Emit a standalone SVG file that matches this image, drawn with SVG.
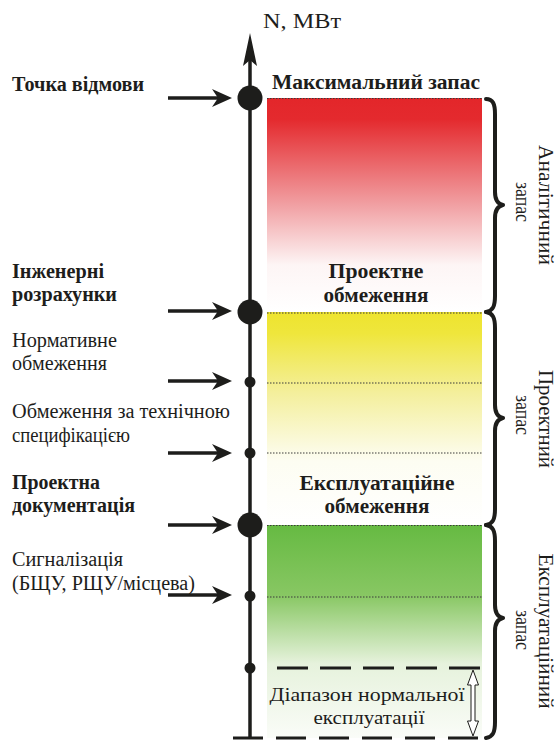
<svg xmlns="http://www.w3.org/2000/svg" width="560" height="740" viewBox="0 0 560 740" font-family="'Liberation Serif', 'Times New Roman', serif">
<defs>
  <style>
    text { font-family: "Liberation Serif", "Times New Roman", serif; fill: #1d1d1b; }
    .b { font-weight: bold; }
    .lbl { font-size: 20px; }
    .mid { font-size: 20px; font-weight: bold; text-anchor: middle; }
    .rot { font-size: 21px; text-anchor: middle; }
    .rot2 { font-size: 20px; text-anchor: middle; }
    .dl { stroke: #3a3a3a; stroke-width: 1; stroke-dasharray: 1.5 1.5; fill: none; }
    .arr { stroke: #1d1d1b; stroke-width: 3.5; fill: none; }
    .axis { stroke: #1d1d1b; stroke-width: 3.5; fill: none; }
    .brace { fill: none; stroke: #1d1d1b; stroke-width: 4; stroke-linecap: round; stroke-linejoin: round; }
    .dash { stroke: #1d1d1b; stroke-width: 3; fill: none; }
    .big { fill: #1d1d1b; }
  </style>
  <linearGradient id="gRed" x1="0" y1="0" x2="0" y2="1">
    <stop offset="0" stop-color="#e3262a"/>
    <stop offset="0.1" stop-color="#e42a2e"/>
    <stop offset="0.5" stop-color="#f1a0a3"/>
    <stop offset="0.78" stop-color="#fdf5f5"/>
    <stop offset="1" stop-color="#ffffff"/>
  </linearGradient>
  <linearGradient id="gYel" x1="0" y1="0" x2="0" y2="1">
    <stop offset="0" stop-color="#eee42e"/>
    <stop offset="0.1" stop-color="#efe63c"/>
    <stop offset="0.38" stop-color="#f4ef9c"/>
    <stop offset="0.7" stop-color="#fdfdf2"/>
    <stop offset="1" stop-color="#ffffff"/>
  </linearGradient>
  <linearGradient id="gGrn" x1="0" y1="0" x2="0" y2="1">
    <stop offset="0" stop-color="#66ba42"/>
    <stop offset="0.33" stop-color="#88c763"/>
    <stop offset="0.65" stop-color="#e6f2dc"/>
    <stop offset="1" stop-color="#fafcf8"/>
  </linearGradient>
  <marker id="ah" viewBox="0 0 20 18" refX="10" refY="9" markerWidth="20" markerHeight="18" markerUnits="userSpaceOnUse" orient="auto">
    <path d="M0,0 L20,9 L0,18 L6,9 Z" fill="#1d1d1b"/>
  </marker>
</defs>

<!-- bands -->
<g id="bands">
  <rect x="267" y="98" width="215" height="214" fill="url(#gRed)"/>
  <rect x="267" y="312" width="215" height="213" fill="url(#gYel)"/>
  <rect x="267" y="525" width="215" height="213" fill="url(#gGrn)"/>
  <line class="dl" x1="267" y1="98.5" x2="482" y2="98.5"/>
  <line class="dl" x1="267" y1="313" x2="482" y2="313"/>
  <line class="dl" x1="267" y1="383" x2="482" y2="383"/>
  <line class="dl" x1="267" y1="453" x2="482" y2="453"/>
  <line class="dl" x1="267" y1="525.5" x2="482" y2="525.5"/>
  <line class="dl" x1="267" y1="597" x2="482" y2="597"/>
</g>

<!-- axis -->
<g id="axis">
  <line class="axis" x1="250" y1="60" x2="250" y2="738"/>
  <polygon points="250,33 257,66 250,60 243,66" fill="#1d1d1b"/>
  <text x="263" y="28" font-size="22" textLength="78" lengthAdjust="spacingAndGlyphs">N, МВт</text>
</g>

<!-- normal range -->
<g id="normal-range">
  <line class="dash" x1="277" y1="668" x2="481" y2="668" stroke-dasharray="31 12"/>
  <line class="dash" x1="233" y1="738" x2="481" y2="738" stroke-dasharray="30 13"/>
  <polygon points="473,670 478.5,685 475,685 475,721 478.5,721 473,736 467.5,721 471,721 471,685 467.5,685" fill="#ffffff" stroke="#1d1d1b" stroke-width="1"/>
  <text x="367" y="701" font-size="19" text-anchor="middle" textLength="195" lengthAdjust="spacingAndGlyphs">Діапазон нормальної</text>
  <text x="369" y="724" font-size="19" text-anchor="middle" textLength="111" lengthAdjust="spacingAndGlyphs">експлуатації</text>
</g>

<!-- points -->
<g id="p-failure">
  <circle class="big" cx="250" cy="98" r="12.5"/>
  <text class="lbl b" x="12" y="91" textLength="132" lengthAdjust="spacingAndGlyphs">Точка відмови</text>
</g>
<g id="p-engineering">
  <circle class="big" cx="250" cy="312" r="12.5"/>
  <text class="lbl b" x="12" y="278" textLength="92" lengthAdjust="spacingAndGlyphs">Інженерні</text>
  <text class="lbl b" x="12" y="301" textLength="105" lengthAdjust="spacingAndGlyphs">розрахунки</text>
</g>
<g id="p-normative">
  <circle class="big" cx="250" cy="382" r="5.5"/>
  <text class="lbl" x="12" y="347" textLength="105" lengthAdjust="spacingAndGlyphs">Нормативне</text>
  <text class="lbl" x="12" y="370" textLength="95" lengthAdjust="spacingAndGlyphs">обмеження</text>
</g>
<g id="p-techspec">
  <circle class="big" cx="250" cy="453" r="5.5"/>
  <text class="lbl" x="12" y="418" textLength="218" lengthAdjust="spacingAndGlyphs">Обмеження за технічною</text>
  <text class="lbl" x="12" y="442" textLength="118" lengthAdjust="spacingAndGlyphs">специфікацією</text>
</g>
<g id="p-projectdoc">
  <circle class="big" cx="250" cy="525" r="12.5"/>
  <text class="lbl b" x="12" y="489" textLength="88" lengthAdjust="spacingAndGlyphs">Проектна</text>
  <text class="lbl b" x="12" y="512" textLength="123" lengthAdjust="spacingAndGlyphs">документація</text>
</g>
<g id="p-alarm">
  <circle class="big" cx="250" cy="596" r="5.5"/>
  <text class="lbl" x="12" y="566" textLength="111" lengthAdjust="spacingAndGlyphs">Сигналізація</text>
  <text class="lbl" x="12" y="590" textLength="183" lengthAdjust="spacingAndGlyphs">(БЩУ, РЩУ/місцева)</text>
</g>
<g id="p-normal">
  <circle class="big" cx="250" cy="668" r="5.5"/>
</g>

<!-- band labels -->
<g id="l-max">
  <text class="mid" x="376" y="89" font-size="19" textLength="208" lengthAdjust="spacingAndGlyphs">Максимальний запас</text>
</g>
<g id="l-design">
  <text class="mid" x="376" y="278" textLength="95" lengthAdjust="spacingAndGlyphs">Проектне</text>
  <text class="mid" x="376" y="302" textLength="105" lengthAdjust="spacingAndGlyphs">обмеження</text>
</g>
<g id="l-oper">
  <text class="mid" x="377" y="490" textLength="155" lengthAdjust="spacingAndGlyphs">Експлуатаційне</text>
  <text class="mid" x="377" y="513" textLength="105" lengthAdjust="spacingAndGlyphs">обмеження</text>
</g>

<!-- braces -->
<g id="brace-analytic">
  <path class="brace" d="M486,99 C493,99 495,104 495,114 L495,192 C495,200 498,204 503,205 C498,206 495,210 495,218 L495,296 C495,306 493,311 486,312"/>
  <text class="rot" transform="translate(539,205) rotate(90)" textLength="120" lengthAdjust="spacingAndGlyphs">Аналітичний</text>
  <text class="rot2" transform="translate(516,202) rotate(90)" textLength="40" lengthAdjust="spacingAndGlyphs">запас</text>
</g>
<g id="brace-design">
  <path class="brace" d="M486,312 C493,313 495,318 495,328 L495,405 C495,413 498,417 503,418 C498,419 495,423 495,431 L495,509 C495,519 493,524 486,525"/>
  <text class="rot" transform="translate(539,419) rotate(90)" textLength="98" lengthAdjust="spacingAndGlyphs">Проектний</text>
  <text class="rot2" transform="translate(516,415) rotate(90)" textLength="40" lengthAdjust="spacingAndGlyphs">запас</text>
</g>
<g id="brace-oper">
  <path class="brace" d="M486,525 C493,526 495,531 495,541 L495,605 C495,613 498,617 503,618 C498,619 495,623 495,631 L495,722 C495,732 493,737 486,738"/>
  <text class="rot" transform="translate(539,631) rotate(90)" textLength="155" lengthAdjust="spacingAndGlyphs">Експлуатаційний</text>
  <text class="rot2" transform="translate(516,630) rotate(90)" textLength="40" lengthAdjust="spacingAndGlyphs">запас</text>
</g>

<!-- connectors -->
<g id="connectors">
  <line class="arr" x1="168" y1="98" x2="222" y2="98" marker-end="url(#ah)"/>
  <line class="arr" x1="168" y1="311" x2="222" y2="311" marker-end="url(#ah)"/>
  <line class="arr" x1="168" y1="381" x2="222" y2="381" marker-end="url(#ah)"/>
  <line class="arr" x1="168" y1="453" x2="222" y2="453" marker-end="url(#ah)"/>
  <line class="arr" x1="168" y1="525" x2="222" y2="525" marker-end="url(#ah)"/>
  <line class="arr" x1="168" y1="595" x2="222" y2="595" marker-end="url(#ah)"/>
</g>
</svg>
